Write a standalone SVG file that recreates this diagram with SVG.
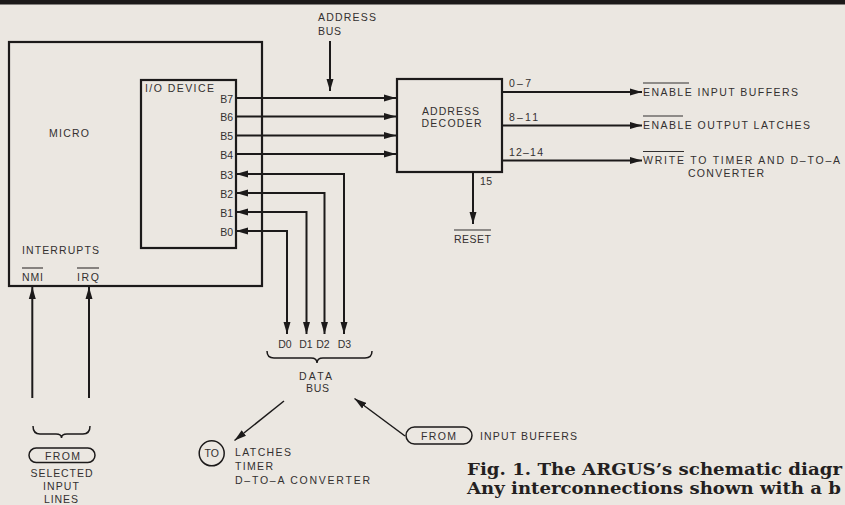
<svg xmlns="http://www.w3.org/2000/svg" width="845" height="505" viewBox="0 0 845 505">
<style>
  .ln { fill: none; stroke: #1c1a1a; stroke-width: 2; }
  .thin { fill: none; stroke: #1c1a1a; stroke-width: 1.5; }
  .box { fill: none; stroke: #1c1a1a; stroke-width: 2.2; }
  .ov { stroke: #333030; stroke-width: 1.1; }
  text { font-family: "Liberation Sans", Arial, sans-serif; font-size: 10.5px; fill: #333030; }
  .mid { text-anchor: middle; }
  .end { text-anchor: end; }
  .cap { font-family: "DejaVu Serif", "Liberation Serif", serif; font-weight: bold; font-size: 16.5px; fill: #241f1f; }
</style>
<defs>
  <marker id="ah" markerUnits="userSpaceOnUse" markerWidth="12" markerHeight="8" refX="12" refY="4" orient="auto-start-reverse">
    <path d="M0,0.5 L12,4 L0,7.5 Z" fill="#1c1a1a"/>
  </marker>
</defs>
<rect x="0" y="0" width="845" height="505" fill="#ebe7e1"/>
<rect id="top-rule" x="0" y="0" width="845" height="4.5" fill="#1c1a1a"/>

<g id="micro">
  <rect class="box" x="9" y="42" width="253" height="244"/>
  <text x="49" y="137" textLength="40">MICRO</text>
  <text x="22" y="254" textLength="77">INTERRUPTS</text>
  <text x="22" y="281" textLength="21">NMI</text>
  <line class="ov" x1="22" y1="268" x2="43" y2="268"/>
  <text x="77" y="281" textLength="22">IRQ</text>
  <line class="ov" x1="77" y1="268" x2="99" y2="268"/>
</g>

<g id="io-device">
  <rect class="box" x="141" y="80" width="95" height="168"/>
  <text x="145" y="92" textLength="69">I/O DEVICE</text>
  <text class="end" x="233" y="102.5">B7</text>
  <text class="end" x="233" y="121">B6</text>
  <text class="end" x="233" y="140">B5</text>
  <text class="end" x="233" y="158.5">B4</text>
  <text class="end" x="233" y="178.5">B3</text>
  <text class="end" x="233" y="197.5">B2</text>
  <text class="end" x="233" y="216.5">B1</text>
  <text class="end" x="233" y="235.5">B0</text>
</g>

<g id="address-bus">
  <text x="318" y="21" textLength="58">ADDRESS</text>
  <text x="318" y="35" textLength="23">BUS</text>
</g>

<g id="address-decoder">
  <rect class="box" x="397" y="79" width="105" height="93"/>
  <text class="mid" x="450.5" y="115" textLength="57">ADDRESS</text>
  <text class="mid" x="451.5" y="127" textLength="60">DECODER</text>
  <text x="509" y="87" textLength="22">0–7</text>
  <text x="509" y="121" textLength="29">8–11</text>
  <text x="509" y="156" textLength="34">12–14</text>
  <text x="480" y="185" textLength="12">15</text>
</g>

<g id="reset">
  <text x="454" y="243" textLength="37">RESET</text>
  <line class="ov" x1="454" y1="230" x2="491" y2="230"/>
</g>

<g id="enable-input-buffers">
  <text x="643" y="96" textLength="155">ENABLE INPUT BUFFERS</text>
  <line class="ov" x1="643" y1="83" x2="689" y2="83"/>
</g>
<g id="enable-output-latches">
  <text x="643" y="128.5" textLength="167">ENABLE OUTPUT LATCHES</text>
  <line class="ov" x1="643" y1="116" x2="683" y2="116"/>
</g>
<g id="write-timer">
  <text x="643" y="164" textLength="197">WRITE TO TIMER AND D–TO–A</text>
  <text class="mid" x="726" y="177" textLength="76">CONVERTER</text>
  <line class="ov" x1="643" y1="151.5" x2="684" y2="151.5"/>
</g>

<g id="data-bus">
  <text class="mid" x="285" y="348">D0</text>
  <text class="mid" x="306" y="348">D1</text>
  <text class="mid" x="323" y="348">D2</text>
  <text class="mid" x="344.5" y="348">D3</text>
  <path class="thin" d="M267,351 Q267,358 274,358 L311,358 Q317,358 317,363 Q317,358 323,358 L365,358 Q372,358 372,351"/>
  <text class="mid" x="315.5" y="380" textLength="33">DATA</text>
  <text class="mid" x="317.5" y="391.5" textLength="23">BUS</text>
</g>

<g id="to-latches">
  <circle class="thin" cx="211.7" cy="453.3" r="12.5"/>
  <text class="mid" x="211.7" y="457">TO</text>
  <text x="235" y="456" textLength="56">LATCHES</text>
  <text x="235" y="470" textLength="38">TIMER</text>
  <text x="235" y="483.5" textLength="135">D–TO–A CONVERTER</text>
</g>

<g id="from-input-buffers">
  <rect class="thin" x="406" y="427" width="66" height="17" rx="8.5"/>
  <text class="mid" x="438.5" y="439.5" textLength="35">FROM</text>
  <text x="480" y="440" textLength="97">INPUT BUFFERS</text>
</g>

<g id="from-selected-inputs">
  <path class="thin" d="M33,426 Q33,434 40,434 L56,434 Q61.5,434 61.5,438 Q61.5,434 67,434 L83,434 Q90,434 90,426"/>
  <rect class="thin" x="29" y="448" width="66" height="14.5" rx="7.2"/>
  <text class="mid" x="62.5" y="459.5" textLength="35">FROM</text>
  <text class="mid" x="61.5" y="476.5" textLength="62">SELECTED</text>
  <text class="mid" x="61" y="489.5" textLength="36">INPUT</text>
  <text class="mid" x="61" y="503" textLength="34">LINES</text>
</g>

<g id="caption">
  <text class="cap" x="467" y="475" textLength="375" lengthAdjust="spacingAndGlyphs">Fig. 1. The ARGUS’s schematic diagr</text>
  <text class="cap" x="467" y="493.5" textLength="374" lengthAdjust="spacingAndGlyphs">Any interconnections shown with a b</text>
</g>

<g id="connectors">
  <path class="ln" marker-end="url(#ah)" d="M236,98 H396"/>
  <path class="ln" marker-end="url(#ah)" d="M236,116.5 H396"/>
  <path class="ln" marker-end="url(#ah)" d="M236,135.5 H396"/>
  <path class="ln" marker-end="url(#ah)" d="M236,154 H396"/>
  <path class="ln" marker-start="url(#ah)" marker-end="url(#ah)" d="M236,174 H344 V334"/>
  <path class="ln" marker-start="url(#ah)" marker-end="url(#ah)" d="M236,193 H324.5 V334"/>
  <path class="ln" marker-start="url(#ah)" marker-end="url(#ah)" d="M236,212 H306.5 V334"/>
  <path class="ln" marker-start="url(#ah)" marker-end="url(#ah)" d="M236,231 H287 V334"/>
  <path class="ln" marker-end="url(#ah)" d="M330,41 V91"/>
  <path class="ln" marker-end="url(#ah)" d="M502,92 H642"/>
  <path class="ln" marker-end="url(#ah)" d="M502,125.5 H642"/>
  <path class="ln" marker-end="url(#ah)" d="M502,160.5 H642"/>
  <path class="ln" marker-end="url(#ah)" d="M473,172 V224"/>
  <path class="ln" marker-end="url(#ah)" d="M32.3,398 V287"/>
  <path class="ln" marker-end="url(#ah)" d="M89,398 V287"/>
  <path class="thin" marker-end="url(#ah)" d="M284,401 L234.5,440.5"/>
  <path class="thin" marker-end="url(#ah)" d="M405,436 L354.5,398.5"/>
</g>
</svg>
